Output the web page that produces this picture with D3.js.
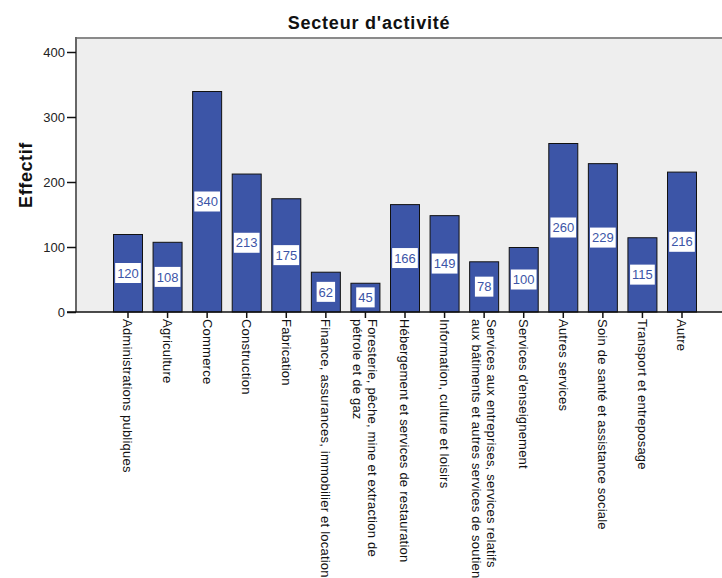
<!DOCTYPE html>
<html>
<head>
<meta charset="utf-8">
<script src="https://cdn.jsdelivr.net/npm/d3@7"></script>
<style>
  html, body { margin: 0; padding: 0; background: #fff; }
  svg { display: block; font-family: "Liberation Sans", Arial, sans-serif; }
</style>
</head>
<body>
<svg id="chart" width="722" height="578"></svg>
<script>
// Frequency counts per sector (bar chart)
const categories = [
  ["Administrations publiques"],
  ["Agriculture"],
  ["Commerce"],
  ["Construction"],
  ["Fabrication"],
  ["Finance, assurances, immobilier et location"],
  ["Foresterie, pêche, mine et extraction de", "pétrole et de gaz"],
  ["Hébergement et services de restauration"],
  ["Information, culture et loisirs"],
  ["Services aux entreprises, services relatifs", "aux bâtiments et autres services de soutien"],
  ["Services d'enseignement"],
  ["Autres services"],
  ["Soin de santé et assistance sociale"],
  ["Transport et entreposage"],
  ["Autre"]
];
const counts = [120, 108, 340, 213, 175, 62, 45, 166, 149, 78, 100, 260, 229, 115, 216];
const yTicks = [0, 100, 200, 300, 400];

const title = "Secteur d'activité";
const yTitle = "Effectif";

const svg = d3.select("#chart");

const plot = { left: 76, right: 734, top: 38, bottom: 312 };

const keys = categories.map((c, i) => i);
const x = d3.scaleBand()
  .domain(keys)
  .range([plot.left, plot.right])
  .paddingInner(0.242)
  .paddingOuter(0.935);

const y = d3.scaleLinear()
  .domain([0, 400])
  .range([plot.bottom, 52]);

// plot background
svg.append("rect")
  .attr("x", plot.left).attr("y", plot.top)
  .attr("width", plot.right - plot.left).attr("height", plot.bottom - plot.top)
  .attr("fill", "#eeeeee");

// frame: top and left edges
svg.append("line")
  .attr("x1", plot.left).attr("x2", plot.right)
  .attr("y1", plot.top).attr("y2", plot.top)
  .attr("stroke", "#8a8a8a").attr("stroke-width", 2);
svg.append("line")
  .attr("x1", plot.left).attr("x2", plot.left)
  .attr("y1", plot.top - 1).attr("y2", plot.bottom)
  .attr("stroke", "#666").attr("stroke-width", 2);

// bars
const bars = svg.append("g");
bars.selectAll("rect")
  .data(counts)
  .join("rect")
  .attr("x", (d, i) => x(i) + 0.5)
  .attr("y", d => y(d) + 0.5)
  .attr("width", x.bandwidth() - 1)
  .attr("height", d => y(0) - y(d) - 0.5)
  .attr("fill", "#3c55a7")
  .attr("stroke", "#111")
  .attr("stroke-width", 1);

// value labels in white boxes at the middle of each bar
const labels = svg.append("g");
counts.forEach((d, i) => {
  const cx = x(i) + x.bandwidth() / 2;
  const cy = (y(d) + y(0)) / 2;
  const g = labels.append("g");
  const t = g.append("text")
    .attr("x", cx).attr("y", cy)
    .attr("text-anchor", "middle")
    .attr("dy", "0.36em")
    .attr("font-size", 13)
    .attr("fill", "#3c55a7")
    .text(d);
  const w = t.node().getComputedTextLength() + 4;
  g.insert("rect", "text")
    .attr("x", cx - w / 2).attr("y", cy - 10)
    .attr("width", w).attr("height", 20)
    .attr("fill", "#fff");
});

// y axis
const yAxis = d3.axisLeft(y).tickValues(yTicks).tickSize(9).tickPadding(2);
const yg = svg.append("g")
  .attr("transform", `translate(${plot.left},0)`)
  .call(yAxis);
yg.select(".domain").remove();
yg.selectAll(".tick line").attr("stroke", "#111").attr("stroke-width", 1.5);
yg.selectAll(".tick text")
  .attr("font-size", 13)
  .attr("fill", "#222")
  .attr("font-family", "Liberation Sans, Arial, sans-serif");

// x axis
const xAxis = d3.axisBottom(x).tickSize(6).tickFormat("");
const xg = svg.append("g")
  .attr("transform", `translate(0,${plot.bottom})`)
  .call(xAxis);
xg.select(".domain").attr("d", `M${plot.left - 9},0H${plot.right}`)
  .attr("stroke", "#111").attr("stroke-width", 1.5);
xg.selectAll(".tick line").attr("stroke", "#111").attr("stroke-width", 1.5);

// rotated category labels
const catG = svg.append("g");
categories.forEach((lines, i) => {
  const cx = x(i) + x.bandwidth() / 2;
  const g = catG.append("g")
    .attr("transform", `translate(${cx},${plot.bottom + 7}) rotate(90)`);
  const n = lines.length;
  lines.forEach((line, j) => {
    g.append("text")
      .attr("x", 0)
      .attr("y", (j - (n - 1) / 2) * 15)
      .attr("dy", "0.35em")
      .attr("font-size", 13)
      .attr("letter-spacing", 0.22)
      .attr("fill", "#111")
      .text(line);
  });
});

// titles
svg.append("text")
  .attr("x", 369).attr("y", 29)
  .attr("text-anchor", "middle")
  .attr("font-size", 18)
  .attr("letter-spacing", 0.8)
  .attr("font-weight", "bold")
  .attr("fill", "#111")
  .text(title);

svg.append("text")
  .attr("transform", `translate(32,${(plot.top + plot.bottom) / 2}) rotate(-90)`)
  .attr("text-anchor", "middle")
  .attr("font-size", 18)
  .attr("letter-spacing", 0.6)
  .attr("font-weight", "bold")
  .attr("fill", "#111")
  .text(yTitle);
</script>
</body>
</html>
